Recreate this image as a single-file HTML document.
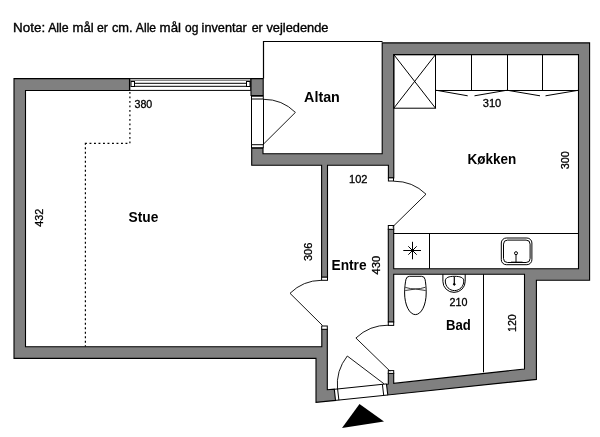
<!DOCTYPE html>
<html>
<head>
<meta charset="utf-8">
<style>
html,body{margin:0;padding:0;background:#fff;}
body{width:600px;height:437px;overflow:hidden;position:relative;}
svg{position:absolute;left:0;top:0;will-change:transform;}
text{font-family:"Liberation Sans",sans-serif;fill:#000;}
</style>
</head>
<body>
<svg width="600" height="437" viewBox="0 0 600 437">
<rect x="0" y="0" width="600" height="437" fill="#fff"/>


<!-- Altan box thin lines -->
<path d="M263.5 78.5 V41.5 H382.5" fill="none" stroke="#000" stroke-width="1.2"/>

<!-- window -->
<g fill="none" stroke="#000" stroke-width="1">
<rect x="129.8" y="78.6" width="121" height="11.8"/>
<line x1="130" y1="80.2" x2="250.5" y2="80.2" stroke="#555"/>
<rect x="131" y="81.5" width="3.5" height="5"/>
<rect x="246.5" y="81.5" width="3.5" height="5"/>
<line x1="134.5" y1="83.3" x2="246.5" y2="83.3"/>
<line x1="134.5" y1="86.3" x2="246.5" y2="86.3"/>
</g>

<!-- walls -->
<g fill="#808080" stroke="#000" stroke-width="1.1" stroke-linejoin="miter">
<path d="M14 78.6 H129.5 V90.5 H25.5 V346.8 H321.8 V329.3 H327.3 V389.7 L334.3 389.2 L335.5 400.4 L316 402.4 V358.4 H14 Z"/>
<path d="M251 78.6 H263.2 V95.5 H251 Z"/>
<path d="M251.7 148.3 H263 V153.7 H382.2 V42.9 H589.6 V280.2 H536.4 V379.4 L387.8 395.0 L386.5 384.2 L388.3 384 V373.4 H393.7 V383.4 L524.5 369 V274.2 H393.7 V322 H388.3 V229.3 H393.7 V268.7 H578.5 V54.6 H393.8 V177.9 H388.4 V165.3 H327.5 V277.2 H321.6 V165.3 H251.7 Z"/>
</g>

<!-- wall caps -->
<g fill="#fff" stroke="#000" stroke-width="1">
<rect x="321.6" y="277.2" width="5.9" height="3.1"/>
<rect x="321.7" y="326" width="5.6" height="3.3"/>
<rect x="388.4" y="177.9" width="5.1" height="3.1"/>
<rect x="388.3" y="225.5" width="5.4" height="3.8"/>
<rect x="388.3" y="322" width="5.4" height="3.4"/>
<rect x="388.3" y="370.6" width="5.4" height="2.8"/>
<rect x="251.5" y="96.2" width="11.8" height="2.8"/>
<rect x="251.5" y="144.7" width="11.8" height="3"/>
</g>

<!-- door jambs/thresholds -->
<g fill="none" stroke="#000" stroke-width="1">
<line x1="251.5" y1="99" x2="251.5" y2="144.7"/>
<line x1="263.5" y1="99" x2="263.5" y2="144.7"/>
<!-- entry threshold -->
<line x1="334.3" y1="389.3" x2="386.5" y2="383.9"/>
<line x1="335.5" y1="400.4" x2="387.8" y2="395.0"/>
<path d="M337.6 389 L338.9 400.2" />
<path d="M382.4 384.3 L383.7 395.4" />
</g>

<!-- door swings -->
<g fill="none" stroke="#000" stroke-width="0.9">
<!-- Altan door: hinge (263,144.4) -->
<path d="M263.5 99.3 A45.1 45.1 0 0 1 295.4 112.4 L263.2 144.4"/>
<!-- kitchen door: hinge (392.3,227) -->
<path d="M393.8 181.2 A45.8 45.8 0 0 1 426 194.2 L392.5 227"/>
<!-- entre left door: hinge (322.8,325.5) -->
<path d="M321.5 280.3 A45.2 45.2 0 0 0 290 293.3 L322.5 325.5"/>
<!-- bad door: hinge (390.2,371.5) -->
<path d="M388.5 325.2 A46.5 46.5 0 0 0 355.9 338 L390.2 371.3"/>
<!-- entry door: hinge (384.2,383.8) -->
<path d="M337.5 389.3 A46.6 46.6 0 0 1 347.3 356 L384 383.8"/>
</g>

<!-- dotted line -->
<path d="M85.4 142.8 V346.5 M85 143.4 H129.9 V91" fill="none" stroke="#000" stroke-width="1.2" stroke-dasharray="1.9 2.6"/>

<!-- kitchen furniture -->
<g fill="none" stroke="#000" stroke-width="1">
<rect x="393.8" y="54.6" width="41.7" height="53.6"/>
<line x1="393.8" y1="54.6" x2="435.5" y2="108.2"/>
<line x1="435.5" y1="54.6" x2="393.8" y2="108.2"/>
<line x1="435.5" y1="90.5" x2="578.5" y2="90.5"/>
<line x1="471.5" y1="54.6" x2="471.5" y2="90.5"/>
<line x1="507.5" y1="54.6" x2="507.5" y2="90.5"/>
<line x1="542.5" y1="54.6" x2="542.5" y2="90.5"/>
<path d="M436.5 90.3 L467.7 95.8 M474.5 95.8 L506.5 90.3 M507.5 90.3 L540 95.8 M545.5 95.8 L578.3 90.3"/>
<line x1="393.7" y1="233.5" x2="578.5" y2="233.5"/>
<line x1="429.5" y1="233.5" x2="429.5" y2="268.7"/>
<!-- hob star -->
<path d="M403.3 250.5 H421 M412.5 241.8 V259.3 M408.3 246.3 L416.7 254.7 M416.7 246.3 L408.3 254.7" stroke-width="1"/>
<circle cx="412.3" cy="250.5" r="1.6" fill="#000" stroke="none"/>
<!-- sink -->
<rect x="501.3" y="238" width="30.6" height="26.7" rx="5" ry="5"/>
<rect x="503.5" y="240.1" width="26.6" height="22.4" rx="4" ry="4"/>
<circle cx="516" cy="253.2" r="1.5"/>
<line x1="516" y1="254.7" x2="516" y2="262.5"/>
<line x1="511" y1="262.3" x2="522.5" y2="262.3" stroke-width="1.3"/>
</g>

<!-- bad furniture -->
<g fill="none" stroke="#000" stroke-width="1">
<line x1="483.5" y1="274.2" x2="483.5" y2="372.3"/>
<!-- toilet -->
<path d="M404.6 293 C404.6 288 405.3 282 406 279.2 Q406.8 276.3 409.5 276.3 H421.5 Q424.3 276.3 425 279.2 C425.7 282 426.2 288 426.2 293 A10.8 21.6 0 0 1 404.6 293 Z"/>
<path d="M405.3 287.4 Q415.5 290.6 425.3 287.3 M405.3 290.5 Q415.5 287.5 425.6 290.5" stroke-width="0.9" stroke="#222"/>
<!-- bad sink -->
<path d="M442.9 274.2 V281.5 A11.15 10.9 0 0 0 465.2 281.5 V274.2"/>
<path d="M445.3 281 C445.3 277.5 449 276.3 454.5 276.3 C460 276.3 463.8 277.5 463.8 281 C463.8 286.5 459.5 290.6 454.5 290.6 C449.5 290.6 445.3 286.5 445.3 281 Z"/>
<line x1="454.3" y1="276.5" x2="454.3" y2="284.5" stroke-width="1.2"/>
<circle cx="454.3" cy="284.3" r="0.9" fill="#000"/>
</g>

<!-- triangle -->
<path d="M342 428 L359.5 404 L384 421.5 Z" fill="#000"/>

<!--TEXT-->
<g font-size="12" stroke="#000" stroke-width="0.35">
<text x="13.1" y="31.7" textLength="32.01" lengthAdjust="spacingAndGlyphs">Note:</text>
<text x="48.17" y="31.7" textLength="20.55" lengthAdjust="spacingAndGlyphs">Alle</text>
<text x="72.62" y="31.7" textLength="21.08" lengthAdjust="spacingAndGlyphs">mål</text>
<text x="96.93" y="31.7" textLength="10.88" lengthAdjust="spacingAndGlyphs">er</text>
<text x="111.95" y="31.7" textLength="20.75" lengthAdjust="spacingAndGlyphs">cm.</text>
<text x="135.87" y="31.7" textLength="20.24" lengthAdjust="spacingAndGlyphs">Alle</text>
<text x="159.61" y="31.7" textLength="21.41" lengthAdjust="spacingAndGlyphs">mål</text>
<text x="184.99" y="31.7" textLength="13.35" lengthAdjust="spacingAndGlyphs">og</text>
<text x="201.64" y="31.7" textLength="45.21" lengthAdjust="spacingAndGlyphs">inventar</text>
<text x="251.67" y="31.7" textLength="11.1" lengthAdjust="spacingAndGlyphs">er</text>
<text x="266.41" y="31.7" textLength="62.03" lengthAdjust="spacingAndGlyphs">vejledende</text>
</g>
<g font-weight="bold" font-size="14">
<text x="304.14" y="102" textLength="35.72" lengthAdjust="spacingAndGlyphs">Altan</text>
<text x="467.42" y="164.4" textLength="48.72" lengthAdjust="spacingAndGlyphs">Køkken</text>
<text x="128.59" y="222.3" textLength="29.82" lengthAdjust="spacingAndGlyphs">Stue</text>
<text x="331.51" y="269.9" textLength="35.09" lengthAdjust="spacingAndGlyphs">Entre</text>
<text x="446.05" y="329.7" textLength="24.8" lengthAdjust="spacingAndGlyphs">Bad</text>
</g>
<g font-size="11" stroke="#000" stroke-width="0.3">
<text x="134.47" y="108.2" textLength="17.79" lengthAdjust="spacingAndGlyphs">380</text>
<text x="482.7" y="107.2" textLength="18.57" lengthAdjust="spacingAndGlyphs">310</text>
<text x="349.02" y="183.2" textLength="18.42" lengthAdjust="spacingAndGlyphs">102</text>
<text x="449.61" y="306.2" textLength="17.9" lengthAdjust="spacingAndGlyphs">210</text>
<text transform="translate(43.3 226.7) rotate(-90)" x="-0.07" y="0" textLength="17.99" lengthAdjust="spacingAndGlyphs">432</text>
<text transform="translate(312.09999999999997 260.8) rotate(-90)" x="-0.29" y="0" textLength="18.32" lengthAdjust="spacingAndGlyphs">306</text>
<text transform="translate(380.0 274.4) rotate(-90)" x="-0.07" y="0" textLength="18.55" lengthAdjust="spacingAndGlyphs">430</text>
<text transform="translate(568.9 169) rotate(-90)" x="-0.28" y="0" textLength="18.05" lengthAdjust="spacingAndGlyphs">300</text>
<text transform="translate(516.3 331.3) rotate(-90)" x="-0.65" y="0" textLength="17.7" lengthAdjust="spacingAndGlyphs">120</text>
</g>
<!--/TEXT-->
</svg>
</body>
</html>
